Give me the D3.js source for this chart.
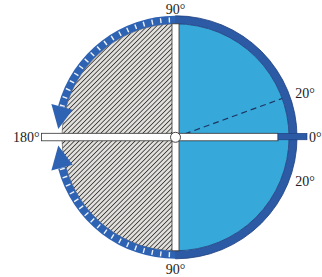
<!DOCTYPE html>
<html>
<head>
<meta charset="utf-8">
<script src="https://cdn.jsdelivr.net/npm/d3@7"></script>
<style>
  body { margin: 0; background: #fff; }
  text { font-family: "Liberation Serif", "DejaVu Serif", serif; fill: #222; }
</style>
</head>
<body>
<svg id="chart" width="322" height="277"></svg>
<script>
// Angles in degrees, 0 = right, counter-clockwise positive
const sectorStarts = [-90, 90];
const sectorEnds = [90, 270];
const sectorKinds = ["filled", "hatched"];
const arrowFrom = [90, 270];
const arrowTo = [176, 184];
const dashedAngles = [20];
const labelAngles = [90, 20, 0, -20, -90, 180];
const labelTexts = ["90°", "20°", "0°", "20°", "90°", "180°"];

const cx = 175.5, cy = 137.3;
const rFill = 113.5, rOut = 121.5;

// degrees -> d3.arc angle (radians, clockwise from 12 o'clock)
const ang = d3.scaleLinear().domain([0, 360]).range([Math.PI / 2, Math.PI / 2 - 2 * Math.PI]);
const rad = d3.scaleLinear().domain([0, 360]).range([0, 2 * Math.PI]);
const pt = (deg, r) => [r * Math.cos(rad(deg)), -r * Math.sin(rad(deg))];

const svg = d3.select("#chart");
const defs = svg.append("defs");
const pat = defs.append("pattern")
    .attr("id", "hatch")
    .attr("patternUnits", "userSpaceOnUse")
    .attr("width", 3.3).attr("height", 3.3)
    .attr("patternTransform", "rotate(45)");
pat.append("rect").attr("width", 3.3).attr("height", 3.3).attr("fill", "#e2e0dc");
pat.append("line").attr("x1", 0).attr("y1", 0).attr("x2", 0).attr("y2", 3.3)
    .attr("stroke", "#333").attr("stroke-width", 1.6);

const g = svg.append("g").attr("transform", `translate(${cx},${cy})`);

// Half discs
const sectorArc = d3.arc().innerRadius(0).outerRadius(rFill);
g.selectAll("path.sector")
    .data(sectorStarts.map((s, i) => ({ s, e: sectorEnds[i], kind: sectorKinds[i] })))
    .join("path")
    .attr("class", "sector")
    .attr("d", d => sectorArc({ startAngle: ang(d.e), endAngle: ang(d.s) }))
    .attr("fill", d => d.kind === "filled" ? "#36a8da" : "url(#hatch)")
    .attr("stroke", d => d.kind === "filled" ? "none" : "#444")
    .attr("stroke-width", 0.6);

// Right outer ring, top to bottom
const ringArc = d3.arc().innerRadius(rFill).outerRadius(rOut);
g.append("path")
    .attr("d", ringArc({ startAngle: ang(90), endAngle: ang(-90) }))
    .attr("fill", "#2c5aa5")
    .attr("stroke", "#1d3d7d")
    .attr("stroke-width", 0.8);

// Left arrows with white ticks
arrowFrom.forEach((from, i) => {
    const to = arrowTo[i];
    const dir = Math.sign(to - from);
    const headBase = to - dir * 11;
    const a0 = ang(from), a1 = ang(headBase);
    g.append("path")
        .attr("d", ringArc({ startAngle: Math.min(a0, a1), endAngle: Math.max(a0, a1) }))
        .attr("fill", "#2e62b3");
    const b1 = pt(headBase, rFill - 7), b2 = pt(headBase, rOut + 7), tip = pt(to, (rFill + rOut) / 2);
    g.append("path")
        .attr("d", `M${b1}L${b2}L${tip}Z`)
        .attr("fill", "#2e62b3");
    const ticks = d3.range(from + dir * 3, headBase, dir * 4.2);
    g.selectAll(null).data(ticks).join("line")
        .attr("x1", d => pt(d, rFill + 1.5)[0])
        .attr("y1", d => pt(d, rFill + 1.5)[1])
        .attr("x2", d => pt(d, rOut - 1.5)[0])
        .attr("y2", d => pt(d, rOut - 1.5)[1])
        .attr("stroke", "#eef3fa")
        .attr("stroke-width", 1.4);
});

// Dashed ray
g.selectAll("line.dash").data(dashedAngles).join("line")
    .attr("class", "dash")
    .attr("x1", 0).attr("y1", 0)
    .attr("x2", d => pt(d, rFill)[0])
    .attr("y2", d => pt(d, rFill)[1])
    .attr("stroke", "#1f3560").attr("stroke-width", 1.2)
    .attr("stroke-dasharray", "6,4");

// Vertical white bar
g.append("rect")
    .attr("x", -3.5).attr("y", -rFill).attr("width", 7).attr("height", 2 * rFill)
    .attr("fill", "#fff").attr("stroke", "#333").attr("stroke-width", 0.8);

// Horizontal white bar and dark tip
const leftEnd = pt(180, rOut + 12.5)[0], rightWhite = pt(0, rFill - 11)[0], rightEnd = pt(0, rOut + 10)[0];
g.append("rect")
    .attr("x", leftEnd).attr("y", -4).attr("width", rightWhite - leftEnd).attr("height", 7.5)
    .attr("fill", "#fff").attr("stroke", "#333").attr("stroke-width", 0.8);
g.append("rect")
    .attr("x", rightWhite).attr("y", -4).attr("width", rightEnd - rightWhite).attr("height", 6.5)
    .attr("fill", "#2c5aa5").attr("stroke", "#1d3d7d").attr("stroke-width", 0.6);

// Centre hinge
g.append("circle").attr("r", 5).attr("fill", "#fff").attr("stroke", "#333").attr("stroke-width", 0.9);

// Labels
const labelPos = (deg) => {
    if (deg === 90) return [cx, 14, "middle"];
    if (deg === -90) return [cx, 273.5, "middle"];
    if (deg === 180) return [39.5, cy + 4.5, "end"];
    if (deg === 0) return [309, cy + 4.5, "start"];
    const p = pt(deg, rOut + 8);
    return [cx + p[0] - 2, cy + p[1] + 4.5, "start"];
};
svg.selectAll("text.lab")
    .data(labelAngles.map((a, i) => ({ a, t: labelTexts[i] })))
    .join("text")
    .attr("class", "lab")
    .attr("x", d => labelPos(d.a)[0])
    .attr("y", d => labelPos(d.a)[1])
    .attr("text-anchor", d => labelPos(d.a)[2])
    .attr("font-size", 14)
    .text(d => d.t);
</script>
</body>
</html>
